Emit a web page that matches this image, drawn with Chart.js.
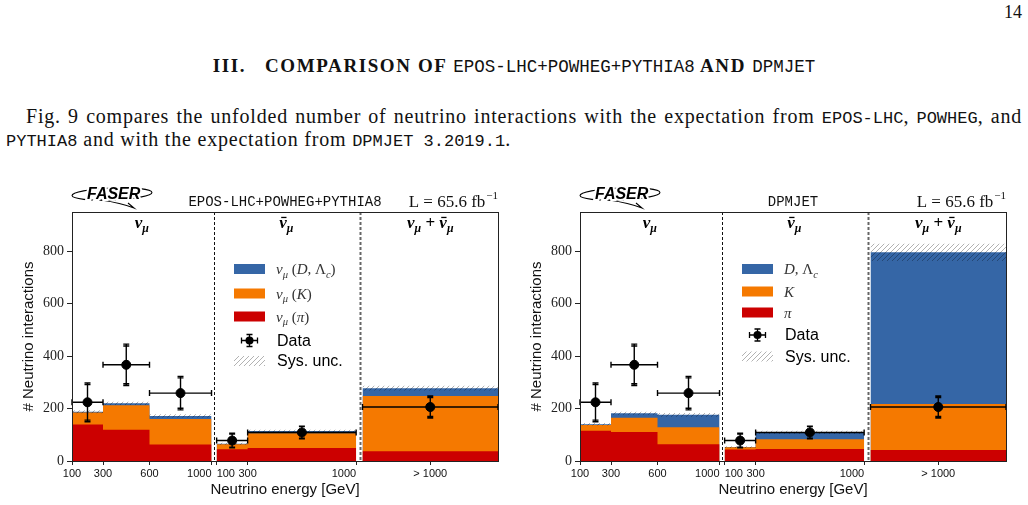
<!DOCTYPE html>
<html>
<head>
<meta charset="utf-8">
<script src="https://cdn.jsdelivr.net/npm/chart.js@4.4.0/dist/chart.umd.min.js"></script>
<style>
  html, body { margin: 0; padding: 0; background: #fff; }
  body { width: 1028px; height: 505px; position: relative; overflow: hidden; font-family: "Liberation Serif", serif; color: #111; }
  .tt { font-family: "Liberation Mono", monospace; letter-spacing: 0; }
  #pageno { position: absolute; right: 6px; top: 2px; font-size: 18px; }
  #heading { position: absolute; left: 0; width: 1028px; top: 55px; text-align: center; font-size: 19px; font-weight: bold; letter-spacing: 1.6px; white-space: nowrap; }
  #heading .tt { font-weight: normal; font-size: 17.5px; }
  #para1 { position: absolute; left: 26px; width: 996px; top: 105px; font-size: 20px; letter-spacing: 0.8px; text-align: justify; text-align-last: justify; white-space: nowrap; }
  #para2 { position: absolute; left: 6px; top: 128px; font-size: 20px; letter-spacing: 0.8px; white-space: nowrap; }
  #para1 .tt, #para2 .tt { font-size: 17px; }
  .panel { position: absolute; top: 180px; width: 514px; height: 325px; }
  #wrapL { left: 0; }
  #wrapR { left: 508px; }
</style>
</head>
<body>
<div id="pageno">14</div>
<div id="heading">III.&nbsp;&nbsp;&nbsp;COMPARISON OF <span class="tt">EPOS-LHC+POWHEG+PYTHIA8</span> AND <span class="tt">DPMJET</span></div>
<div id="para1">Fig. 9 compares the unfolded number of neutrino interactions with the expectation from <span class="tt">EPOS-LHC</span>, <span class="tt">POWHEG</span>, and</div>
<div id="para2"><span class="tt">PYTHIA8</span> and with the expectation from <span class="tt">DPMJET 3.2019.1</span>.</div>
<div class="panel" id="wrapL"><canvas id="chartL" width="514" height="325"></canvas></div>
<div class="panel" id="wrapR"><canvas id="chartR" width="514" height="325"></canvas></div>

<script>
// --- data ---------------------------------------------------------------
// bin edges in GeV; the last bin is the combined nu + nubar overflow (> 1000 GeV)
const numuEdges = [100, 300, 600, 1000];
const numubarEdges = [100, 300, 1000];
const xTickLabels = ['100', '300', '600', '1000', '100', '300', '1000', '> 1000'];
const yTicks = [0, 200, 400, 600, 800];

// bin order: numu x3, numubar x2, overflow x1
const eposPi  = [139, 119, 63, 45, 50, 37];
const eposK   = [46, 94, 97, 19, 56, 211];
const eposD   = [3, 7, 12, 2, 8, 30];
const eposSys = [6, 6, 6, 4, 5, 9];

const dpmPi  = [115, 111, 64, 44, 46, 42];
const dpmK   = [22, 54, 65, 8, 37, 175];
const dpmD   = [3, 17, 47, 1, 26, 579];
const dpmSys = [5, 6, 7, 3, 6, 33];

const dataVal  = [224, 367, 259, 78, 109, 206];
const dataStat = [68, 72, 58, 25, 22, 36];
const dataTot  = [74, 79, 64, 28, 24, 42];
const dataE    = [200, 450, 800, 200, 650, null]; // null -> overflow bin centre

// --- layout of the shared energy axis -------------------------------------
const X_MIN = 100, X_MAX = 2848;
const NUBAR_SHIFT = 933;           // nubar block sits right of the numu block
const OVERFLOW = [1974, 2848];
const DIVIDERS = [1016, 1955];

const COL = { D: '#3566a6', K: '#f57900', pi: '#cc0000' };

function buildBins() {
  const bins = [];
  for (let i = 0; i < numuEdges.length - 1; i++)
    bins.push({ lo: numuEdges[i], hi: numuEdges[i + 1], region: 0 });
  for (let i = 0; i < numubarEdges.length - 1; i++)
    bins.push({ lo: numubarEdges[i] + NUBAR_SHIFT, hi: numubarEdges[i + 1] + NUBAR_SHIFT, region: 1 });
  bins.push({ lo: OVERFLOW[0], hi: OVERFLOW[1], region: 2 });
  return bins;
}
const bins = buildBins();

const tickValues = numuEdges
  .concat(numubarEdges.map(e => e + NUBAR_SHIFT))
  .concat([(OVERFLOW[0] + OVERFLOW[1]) / 2]);
const tickAlign = ['center', 'center', 'center', 'right', 'left', 'center', 'right', 'center'];

function stepPoints(vals, region) {
  const pts = [];
  let last = -1;
  bins.forEach((b, i) => {
    if (b.region === region) { pts.push({ x: b.lo, y: vals[i] }); last = i; }
  });
  pts.push({ x: bins[last].hi, y: vals[last] });
  return pts;
}

function makeHatch() {
  const c = document.createElement('canvas');
  c.width = 5; c.height = 5;
  const g = c.getContext('2d');
  g.strokeStyle = 'rgba(0,0,0,0.3)';
  g.lineWidth = 1;
  g.beginPath();
  g.moveTo(-1, 6); g.lineTo(6, -1);
  g.moveTo(-1, 1); g.lineTo(1, -1);
  g.moveTo(4, 6); g.lineTo(6, 4);
  g.stroke();
  return g.createPattern(c, 'repeat');
}
const hatch = makeHatch();

// horizontal run first, then the vertical step at the next bin edge
function area(points, color, order) {
  return {
    data: points, stepped: 'before', fill: 'origin',
    backgroundColor: color, borderColor: 'rgba(0,0,0,0)', borderWidth: 0,
    pointRadius: 0, order: order
  };
}

function panelDatasets(pi, k, d, sys) {
  const kTop = pi.map((v, i) => v + k[i]);
  const dTop = kTop.map((v, i) => v + d[i]);
  const up = dTop.map((v, i) => v + sys[i]);
  const lo = dTop.map((v, i) => v - sys[i]);
  const ds = [];
  for (let r = 0; r < 3; r++) {
    ds.push(area(stepPoints(dTop, r), COL.D, 5));
    ds.push(area(stepPoints(kTop, r), COL.K, 4));
    ds.push(area(stepPoints(pi, r), COL.pi, 3));
    ds.push({ data: stepPoints(up, r), stepped: 'before', fill: '+1', backgroundColor: hatch,
              borderColor: 'rgba(0,0,0,0)', borderWidth: 0, pointRadius: 0, order: 2 });
    ds.push({ data: stepPoints(lo, r), stepped: 'before', fill: false,
              borderColor: 'rgba(0,0,0,0)', borderWidth: 0, pointRadius: 0, order: 2 });
  }
  const pts = dataVal.map((v, i) => ({
    x: dataE[i] === null ? (bins[i].lo + bins[i].hi) / 2 : (bins[i].region === 1 ? dataE[i] + NUBAR_SHIFT : dataE[i]),
    y: v
  }));
  ds.push({ data: pts, showLine: false, pointRadius: 4.5, pointHoverRadius: 4.5,
            pointBackgroundColor: '#000', pointBorderColor: '#000', borderColor: '#000', order: 0 });
  return ds;
}

// --- text helpers ---------------------------------------------------------
const SERIF = '"Liberation Serif", serif';
const SANS = '"Liberation Sans", sans-serif';

function partFont(p, size) {
  const sub = p.s.indexOf('sub') >= 0;
  const sz = sub ? size * 0.7 : size;
  const bold = p.s.indexOf('b') === 0 ? 'bold ' : '';
  const ital = p.s.indexOf('r') >= 0 ? '' : 'italic ';
  return ital + bold + sz + 'px ' + SERIF;
}
function richWidth(ctx, parts, size) {
  let w = 0;
  parts.forEach(p => { ctx.font = partFont(p, size); w += ctx.measureText(p.t).width; });
  return w;
}
function drawRich(ctx, parts, x, y, size, align, color) {
  const w = richWidth(ctx, parts, size);
  let cx = align === 'center' ? x - w / 2 : (align === 'right' ? x - w : x);
  ctx.fillStyle = color; ctx.strokeStyle = color;
  ctx.textAlign = 'left'; ctx.textBaseline = 'alphabetic';
  parts.forEach(p => {
    ctx.font = partFont(p, size);
    const sub = p.s.indexOf('sub') >= 0;
    const tw = ctx.measureText(p.t).width;
    ctx.fillText(p.t, cx, sub ? y + size * 0.25 : y);
    if (p.bar) {
      ctx.lineWidth = 1.3;
      ctx.beginPath();
      ctx.moveTo(cx + tw * 0.25, y - size * 0.62);
      ctx.lineTo(cx + tw * 0.95, y - size * 0.62);
      ctx.stroke();
    }
    cx += tw;
  });
}

const NU = [{ t: 'ν', s: 'bi' }, { t: 'μ', s: 'bisub' }];
const NUBAR = [{ t: 'ν', s: 'bi', bar: true }, { t: 'μ', s: 'bisub' }];
const regionTitles = [NU, NUBAR, NU.concat([{ t: ' + ', s: 'br' }]).concat(NUBAR)];

function drawLogo(ctx, x0, y0) {
  ctx.save();
  ctx.strokeStyle = '#000'; ctx.lineWidth = 1.1;
  ctx.beginPath();
  ctx.ellipse(x0 + 41, y0 + 8, 40, 6, -0.04, 0, Math.PI * 2);
  ctx.stroke();
  ctx.beginPath();
  ctx.moveTo(x0 + 30, y0 + 14);
  ctx.quadraticCurveTo(x0 + 50, y0 + 17, x0 + 63, y0 + 22);
  ctx.lineTo(x0 + 57, y0 + 17);
  ctx.stroke();
  ctx.font = 'italic 900 16px ' + SANS;
  ctx.textAlign = 'left'; ctx.textBaseline = 'alphabetic';
  ctx.lineWidth = 4; ctx.strokeStyle = '#fff';
  ctx.strokeText('FASER', x0 + 16, y0 + 13);
  ctx.fillStyle = '#000';
  ctx.fillText('FASER', x0 + 16, y0 + 13);
  ctx.restore();
}

function drawLegend(ctx, cfg) {
  const x = cfg.legendX, ys = cfg.legendY;
  const cols = [COL.D, COL.K, COL.pi];
  for (let i = 0; i < 3; i++) {
    ctx.fillStyle = cols[i];
    ctx.fillRect(x, ys[i] - 5, 31, 10);
    drawRich(ctx, cfg.legendLabels[i], x + cfg.legendTextDx, ys[i] + 5, 15, 'left', '#333');
  }
  // data marker
  const mx = x + 15.5, my = ys[3];
  ctx.strokeStyle = '#000'; ctx.lineWidth = 1.3;
  ctx.beginPath();
  ctx.moveTo(mx - 8, my); ctx.lineTo(mx + 8, my);
  ctx.moveTo(mx - 8, my - 3); ctx.lineTo(mx - 8, my + 3);
  ctx.moveTo(mx + 8, my - 3); ctx.lineTo(mx + 8, my + 3);
  ctx.moveTo(mx, my - 6); ctx.lineTo(mx, my + 6);
  ctx.moveTo(mx - 3, my - 6); ctx.lineTo(mx + 3, my - 6);
  ctx.moveTo(mx - 3, my + 6); ctx.lineTo(mx + 3, my + 6);
  ctx.stroke();
  ctx.fillStyle = '#000';
  ctx.beginPath(); ctx.arc(mx, my, 4, 0, Math.PI * 2); ctx.fill();
  // sys unc swatch
  ctx.fillStyle = hatch;
  ctx.fillRect(x, ys[4] - 5, 31, 10);
  ctx.fillStyle = '#000';
  ctx.font = '16px ' + SANS;
  ctx.textAlign = 'left'; ctx.textBaseline = 'middle';
  ctx.fillText('Data', x + cfg.legendTextDx + 1, ys[3] + 1);
  ctx.fillText('Sys. unc.', x + cfg.legendTextDx + 1, ys[4] + 1);
}

const decorPlugin = {
  id: 'decor',
  afterDatasetsDraw(chart) {
    const { ctx, chartArea: a, scales: { x, y } } = chart;
    ctx.save();
    // region dividers
    DIVIDERS.forEach((d, i) => {
      const px = Math.round(x.getPixelForValue(d)) + 0.5;
      ctx.strokeStyle = i === 0 ? '#111' : '#666';
      ctx.lineWidth = i === 0 ? 1 : 2;
      ctx.setLineDash([3, 2]);
      ctx.beginPath(); ctx.moveTo(px, a.top); ctx.lineTo(px, a.bottom); ctx.stroke();
    });
    ctx.setLineDash([]);
    // error bars
    const meta = chart.getDatasetMeta(chart.data.datasets.length - 1);
    ctx.strokeStyle = '#000'; ctx.lineWidth = 1.4;
    dataVal.forEach((v, i) => {
      const px = meta.data[i].x, py = meta.data[i].y;
      const xl = x.getPixelForValue(bins[i].lo), xr = x.getPixelForValue(bins[i].hi);
      const yT = y.getPixelForValue(v + dataTot[i]), yB = y.getPixelForValue(v - dataTot[i]);
      const sT = y.getPixelForValue(v + dataStat[i]), sB = y.getPixelForValue(v - dataStat[i]);
      ctx.beginPath();
      ctx.moveTo(xl, py); ctx.lineTo(xr, py);
      ctx.moveTo(xl, py - 3); ctx.lineTo(xl, py + 3);
      ctx.moveTo(xr, py - 3); ctx.lineTo(xr, py + 3);
      ctx.moveTo(px, yT); ctx.lineTo(px, yB);
      [yT, yB, sT, sB].forEach(yy => { ctx.moveTo(px - 3, yy); ctx.lineTo(px + 3, yy); });
      ctx.stroke();
    });
    // frame
    ctx.strokeStyle = '#222'; ctx.lineWidth = 1;
    ctx.strokeRect(Math.round(a.left) + 0.5, Math.round(a.top) + 0.5, Math.round(a.right - a.left), Math.round(a.bottom - a.top));
    ctx.restore();
  },
  afterDraw(chart) {
    const { ctx, chartArea: a, scales: { x } } = chart;
    const cfg = chart.options.plugins.decor;
    ctx.save();
    // x tick labels
    ctx.fillStyle = '#111';
    ctx.font = '11px ' + SANS;
    ctx.textBaseline = 'middle';
    xTickLabels.forEach((t, i) => {
      ctx.textAlign = tickAlign[i];
      ctx.fillText(t, x.getPixelForValue(tickValues[i]), a.bottom + 13);
    });
    // region titles
    const centers = [
      (x.getPixelForValue(numuEdges[0]) + x.getPixelForValue(numuEdges[numuEdges.length - 1])) / 2,
      (x.getPixelForValue(numubarEdges[0] + NUBAR_SHIFT) + x.getPixelForValue(numubarEdges[numubarEdges.length - 1] + NUBAR_SHIFT)) / 2,
      x.getPixelForValue((OVERFLOW[0] + OVERFLOW[1]) / 2)
    ];
    regionTitles.forEach((parts, i) => drawRich(ctx, parts, centers[i], a.top + 16, 17, 'center', '#000'));
    // header
    drawLogo(ctx, a.left - 1, 6);
    ctx.fillStyle = '#111';
    ctx.font = '14px "Liberation Mono", monospace';
    ctx.textAlign = 'center'; ctx.textBaseline = 'alphabetic';
    ctx.fillText(cfg.title, (a.left + a.right) / 2, 26);
    ctx.font = '11px ' + SERIF;
    ctx.textAlign = 'right';
    ctx.fillText('−1', a.right, 19);
    const supW = ctx.measureText('−1').width;
    ctx.font = '17px ' + SERIF;
    ctx.fillText('L = 65.6 fb', a.right - supW - 1, 27);
    drawLegend(ctx, cfg);
    ctx.restore();
  }
};

function makeChart(id, datasets, cfg) {
  return new Chart(document.getElementById(id), {
    type: 'line',
    data: { datasets: datasets },
    options: {
      responsive: false, animation: false, devicePixelRatio: 1,
      layout: { padding: { left: 0, top: 32, right: 16, bottom: 0 } },
      plugins: { legend: { display: false }, tooltip: { enabled: false }, decor: cfg },
      scales: {
        x: {
          type: 'linear', min: X_MIN, max: X_MAX,
          afterBuildTicks: s => { s.ticks = tickValues.map(v => ({ value: v })); },
          afterFit: s => { s.height = 44; },
          ticks: { display: false },
          grid: { drawOnChartArea: false, tickLength: 4, color: '#222' },
          border: { color: '#222' },
          title: { display: true, text: 'Neutrino energy [GeV]', font: { family: SANS, size: 15 }, color: '#111', padding: { top: 0, bottom: 6 } }
        },
        y: {
          type: 'linear', min: 0, max: 950,
          afterBuildTicks: s => { s.ticks = yTicks.map(v => ({ value: v })); },
          afterFit: s => { s.width = 72; },
          ticks: { font: { family: SERIF, size: 14 }, color: '#222', padding: 3 },
          grid: { drawOnChartArea: false, tickLength: 5, color: '#222' },
          border: { color: '#222' },
          title: { display: true, text: '# Neutrino interactions', font: { family: SANS, size: 15 }, color: '#111', padding: { top: 20, bottom: 0 } }
        }
      }
    },
    plugins: [decorPlugin]
  });
}

makeChart('chartL', panelDatasets(eposPi, eposK, eposD, eposSys), {
  title: 'EPOS-LHC+POWHEG+PYTHIA8',
  legendX: 234, legendTextDx: 42, legendY: [89, 113.5, 136.5, 160.5, 181],
  legendLabels: [
    [{ t: 'ν', s: 'i' }, { t: 'μ', s: 'isub' }, { t: ' (', s: 'r' }, { t: 'D', s: 'i' }, { t: ', Λ', s: 'r' }, { t: 'c', s: 'isub' }, { t: ')', s: 'r' }],
    [{ t: 'ν', s: 'i' }, { t: 'μ', s: 'isub' }, { t: ' (', s: 'r' }, { t: 'K', s: 'i' }, { t: ')', s: 'r' }],
    [{ t: 'ν', s: 'i' }, { t: 'μ', s: 'isub' }, { t: ' (', s: 'r' }, { t: 'π', s: 'i' }, { t: ')', s: 'r' }]
  ]
});

makeChart('chartR', panelDatasets(dpmPi, dpmK, dpmD, dpmSys), {
  title: 'DPMJET',
  legendX: 234, legendTextDx: 42, legendY: [89, 111.5, 132.5, 155, 176.5],
  legendLabels: [
    [{ t: 'D', s: 'i' }, { t: ', Λ', s: 'r' }, { t: 'c', s: 'isub' }],
    [{ t: 'K', s: 'i' }],
    [{ t: 'π', s: 'i' }]
  ]
});
</script>
</body>
</html>
